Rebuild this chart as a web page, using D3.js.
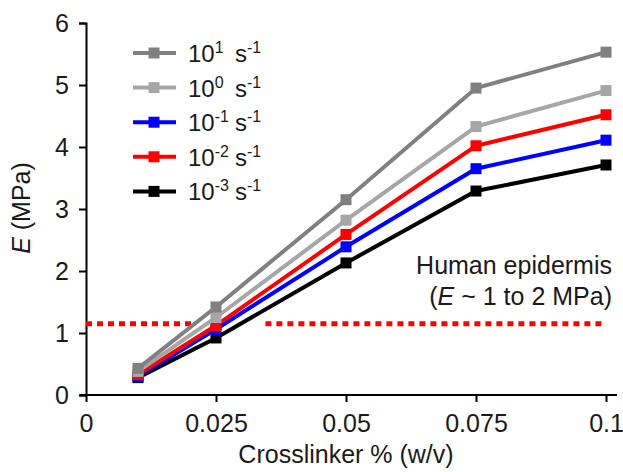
<!DOCTYPE html>
<html>
<head>
<meta charset="utf-8">
<script src="https://cdn.jsdelivr.net/npm/d3@7"></script>
<style>
  body { margin: 0; background: #fff; }
  svg { font-family: Arial, "Liberation Sans", sans-serif; }
</style>
</head>
<body>
<div id="chart"></div>
<script>
'use strict';

// crosslinker concentrations (% w/v)
const crosslinker = [0.01, 0.025, 0.05, 0.075, 0.1];

// strain rates, top to bottom in the legend
const rateExponents = ['1', '0', '-1', '-2', '-3'];
const rateColors = ['#808080', '#a6a6a6', '#0000ff', '#ff0000', '#000000'];

// E (MPa) per strain rate
const e_rate1 = [0.43, 1.42, 3.15, 4.95, 5.53];
const e_rate0 = [0.38, 1.25, 2.82, 4.33, 4.91];
const e_rateM1 = [0.30, 1.06, 2.39, 3.65, 4.11];
const e_rateM2 = [0.33, 1.12, 2.59, 4.02, 4.52];
const e_rateM3 = [0.28, 0.92, 2.13, 3.29, 3.71];

const seriesValues = [e_rate1, e_rate0, e_rateM1, e_rateM2, e_rateM3];

const xTicks = [0, 0.025, 0.05, 0.075, 0.1];
const xTickLabels = ['0', '0.025', '0.05', '0.075', '0.1'];
const yTicks = [0, 1, 2, 3, 4, 5, 6];

// human epidermis reference level
const epidermisLevel = 1.15;

const width = 623;
const height = 472;
const fontSize = '25px';

const svg = d3.select('#chart').append('svg')
    .attr('width', width)
    .attr('height', height);

const x = d3.scaleLinear().domain([0, 0.1]).range([86, 606]);
const y = d3.scaleLinear().domain([0, 6]).range([395, 23]);

// axes
const xAxis = svg.append('g')
    .attr('transform', `translate(0,${y(0)})`)
    .call(d3.axisBottom(x).tickValues(xTicks).tickFormat((d, i) => xTickLabels[i]).tickSizeOuter(0).tickSize(7).tickPadding(12));

const yAxis = svg.append('g')
    .attr('transform', `translate(${x(0)},0)`)
    .call(d3.axisLeft(y).tickValues(yTicks).tickFormat(d3.format('d')).tickSizeOuter(0).tickSize(7).tickPadding(10));

[xAxis, yAxis].forEach((ax) => {
    ax.select('.domain').attr('stroke', '#000').attr('stroke-width', 2);
    ax.selectAll('.tick line').attr('stroke', '#000').attr('stroke-width', 2);
    ax.selectAll('.tick text')
        .attr('fill', '#1a1a1a')
        .style('font-size', fontSize)
        .style('font-family', 'Arial, "Liberation Sans", sans-serif');
});
// x axis line extends a bit past both ends
xAxis.select('.domain').attr('d', `M${x(0) - 6},0H${x(0.1) + 11}`);

// axis titles
svg.append('text')
    .attr('x', 346)
    .attr('y', 463)
    .attr('text-anchor', 'middle')
    .attr('fill', '#1a1a1a')
    .style('font-size', fontSize)
    .text('Crosslinker % (w/v)');

const yTitle = svg.append('text')
    .attr('transform', 'translate(30,208) rotate(-90)')
    .attr('text-anchor', 'middle')
    .attr('fill', '#1a1a1a')
    .style('font-size', fontSize);
yTitle.append('tspan').style('font-style', 'italic').text('E');
yTitle.append('tspan').text(' (MPa)');

// epidermis dotted line (broken where it crosses the data)
const dotted = svg.append('g');
[[0, 0.0205], [0.0345, 0.1]].forEach((seg) => {
    dotted.append('line')
        .attr('x1', x(seg[0]))
        .attr('x2', x(seg[1]))
        .attr('y1', y(epidermisLevel))
        .attr('y2', y(epidermisLevel))
        .attr('stroke', '#ff0000')
        .attr('stroke-width', 5)
        .attr('stroke-dasharray', '6,5');
});

// annotation
const note = svg.append('g').attr('fill', '#1a1a1a').style('font-size', fontSize);
note.append('text')
    .attr('x', 612)
    .attr('y', 274)
    .attr('text-anchor', 'end')
    .text('Human epidermis');
const note2 = note.append('text')
    .attr('x', 612)
    .attr('y', 305)
    .attr('text-anchor', 'end');
note2.append('tspan').text('(');
note2.append('tspan').style('font-style', 'italic').text('E');
note2.append('tspan').text(' ~ 1 to 2 MPa)');

// series lines, drawn bottom-most legend entry first
const line = d3.line()
    .x((d, i) => x(crosslinker[i]))
    .y((d) => y(d));

const drawOrder = [4, 2, 3, 1, 0];
drawOrder.forEach((s) => {
    const g = svg.append('g');
    g.append('path')
        .datum(seriesValues[s])
        .attr('fill', 'none')
        .attr('stroke', rateColors[s])
        .attr('stroke-width', 4)
        .attr('d', line);
    g.selectAll('rect')
        .data(seriesValues[s])
        .join('rect')
        .attr('x', (d, i) => x(crosslinker[i]) - 5.5)
        .attr('y', (d) => y(d) - 5.5)
        .attr('width', 11)
        .attr('height', 11)
        .attr('fill', rateColors[s]);
});

// legend
const legend = svg.append('g');
rateExponents.forEach((ex, i) => {
    const ly = 53 + i * 34.6;
    legend.append('line')
        .attr('x1', 133)
        .attr('x2', 176)
        .attr('y1', ly)
        .attr('y2', ly)
        .attr('stroke', rateColors[i])
        .attr('stroke-width', 4);
    legend.append('rect')
        .attr('x', 154 - 5.5)
        .attr('y', ly - 5.5)
        .attr('width', 11)
        .attr('height', 11)
        .attr('fill', rateColors[i]);
    const t = legend.append('text')
        .attr('x', 188)
        .attr('y', ly + 9)
        .attr('fill', '#1a1a1a')
        .style('font-size', '24px');
    t.append('tspan').text('10');
    t.append('tspan').attr('dy', -9).style('font-size', '16px').text(ex);
    t.append('tspan').attr('dy', 9).attr('x', 235).text('s');
    t.append('tspan').attr('dy', -9).style('font-size', '16px').text('-1');
});
</script>
</body>
</html>
